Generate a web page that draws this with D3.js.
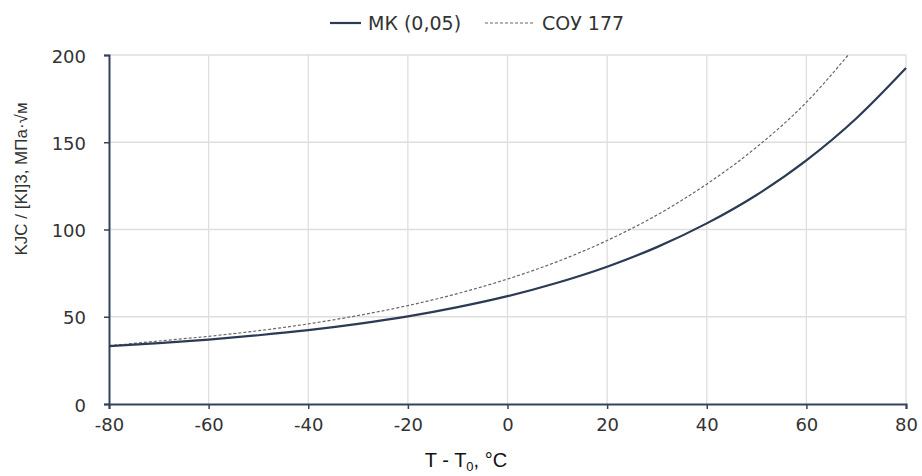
<!DOCTYPE html>
<html>
<head>
<meta charset="utf-8">
<title>KJC</title>
<style>
	body { margin: 0; background: #fff; }
	svg text { font-family: "DejaVu Sans", Verdana, sans-serif; fill: #333; }
</style>
</head>
<body>
<svg id="chart" width="922" height="476"></svg>
<script src="https://cdn.jsdelivr.net/npm/d3@7/dist/d3.min.js"></script>
<script>
// temperature T - T0, °C
var temps = [-80, -70, -60, -50, -40, -30, -20, -10, 0, 10, 20, 30, 40, 50, 60, 70, 80];
// МК (0,05) curve
var mkValues = [33.2, 34.9, 36.9, 39.4, 42.3, 45.9, 50.2, 55.5, 61.8, 69.5, 78.7, 89.9, 103.5, 119.8, 139.6, 163.6, 192.5];
// СОУ 177 curve (stops at the top of the plot)
var souTemps = [-80, -70, -60, -50, -40, -30, -20, -10, 0, 10, 20, 30, 40, 50, 60, 68.4];
var souValues = [33.4, 36.1, 38.8, 42.0, 45.9, 50.7, 56.4, 63.3, 71.6, 81.6, 93.7, 108.3, 126.0, 147.2, 172.9, 200];
var xTicks = [-80, -60, -40, -20, 0, 20, 40, 60, 80];
var yTicks = [0, 50, 100, 150, 200];

var svg = d3.select('#chart');
var margin = {left: 109, right: 16, top: 55, bottom: 72};
var width = 922 - margin.left - margin.right;
var height = 476 - margin.top - margin.bottom;

var x = d3.scaleLinear().domain([-80, 80]).range([0, width]);
var y = d3.scaleLinear().domain([0, 200]).range([height, 0]);

var g = svg.append('g').attr('transform', 'translate(' + margin.left + ',' + margin.top + ')');

// grid
g.selectAll('.vgrid').data(xTicks.slice(1)).enter().append('line')
	.attr('x1', function (d) { return x(d); }).attr('x2', function (d) { return x(d); })
	.attr('y1', 0).attr('y2', height)
	.style('stroke', '#dedede').style('stroke-width', 1.3);
g.selectAll('.hgrid').data(yTicks.slice(1)).enter().append('line')
	.attr('x1', 0).attr('x2', width)
	.attr('y1', function (d) { return y(d); }).attr('y2', function (d) { return y(d); })
	.style('stroke', '#dedede').style('stroke-width', 1.3);

// axes
var fmt = function (d) { return String(d); };
var xAxis = g.append('g').attr('transform', 'translate(0,' + height + ')')
	.call(d3.axisBottom(x).tickValues(xTicks).tickFormat(fmt).tickSize(5).tickPadding(9));
var yAxis = g.append('g')
	.call(d3.axisLeft(y).tickValues(yTicks).tickFormat(fmt).tickSize(5).tickPadding(18));
[xAxis, yAxis].forEach(function (a) {
	a.select('.domain').style('stroke', '#34435c').style('stroke-width', 2);
	a.selectAll('.tick line').style('stroke', '#34435c').style('stroke-width', 1.5);
	a.selectAll('.tick text').style('font-size', '18px').style('fill', '#333')
		.style('font-family', '"DejaVu Sans", Verdana, sans-serif');
});
yAxis.selectAll('.tick text').attr('dy', '0.4em');

// lines
var line = d3.line().curve(d3.curveMonotoneX);
var souPts = souTemps.map(function (t, i) { return [x(t), y(souValues[i])]; });
var mkPts = temps.map(function (t, i) { return [x(t), y(mkValues[i])]; });

g.append('path').attr('d', line(souPts))
	.style('fill', 'none').style('stroke', '#666').style('stroke-width', 1.2)
	.style('stroke-dasharray', '3,2');
g.append('path').attr('d', line(mkPts))
	.style('fill', 'none').style('stroke', '#2b3a55').style('stroke-width', 2.2);

// legend
var leg = svg.append('g').attr('transform', 'translate(0,23)');
leg.append('line').attr('x1', 330).attr('x2', 361).attr('y1', 0).attr('y2', 0)
	.style('stroke', '#2b3a55').style('stroke-width', 2.2);
leg.append('text').attr('x', 368).attr('y', 7).style('font-size', '19px').text('МК (0,05)');
leg.append('line').attr('x1', 485).attr('x2', 533).attr('y1', 0).attr('y2', 0)
	.style('stroke', '#666').style('stroke-width', 1.2).style('stroke-dasharray', '3,2');
leg.append('text').attr('x', 542).attr('y', 7).style('font-size', '19px').text('СОУ 177');

// axis titles
var xt = svg.append('text').attr('x', 466).attr('y', 467)
	.attr('text-anchor', 'middle')
	.style('font-family', '"Liberation Sans", Arial, sans-serif')
	.style('font-size', '20px').style('fill', '#111');
xt.append('tspan').text('T - T');
xt.append('tspan').attr('dy', 4).style('font-size', '13px').text('0');
xt.append('tspan').attr('dy', -4).text(', °C');

svg.append('text')
	.attr('transform', 'translate(27,179) rotate(-90)')
	.attr('text-anchor', 'middle')
	.style('font-family', '"Liberation Sans", Arial, sans-serif')
	.style('font-size', '17px').style('fill', '#333')
	.text('KJC / [KI]3, МПа·√м');
</script>
</body>
</html>
